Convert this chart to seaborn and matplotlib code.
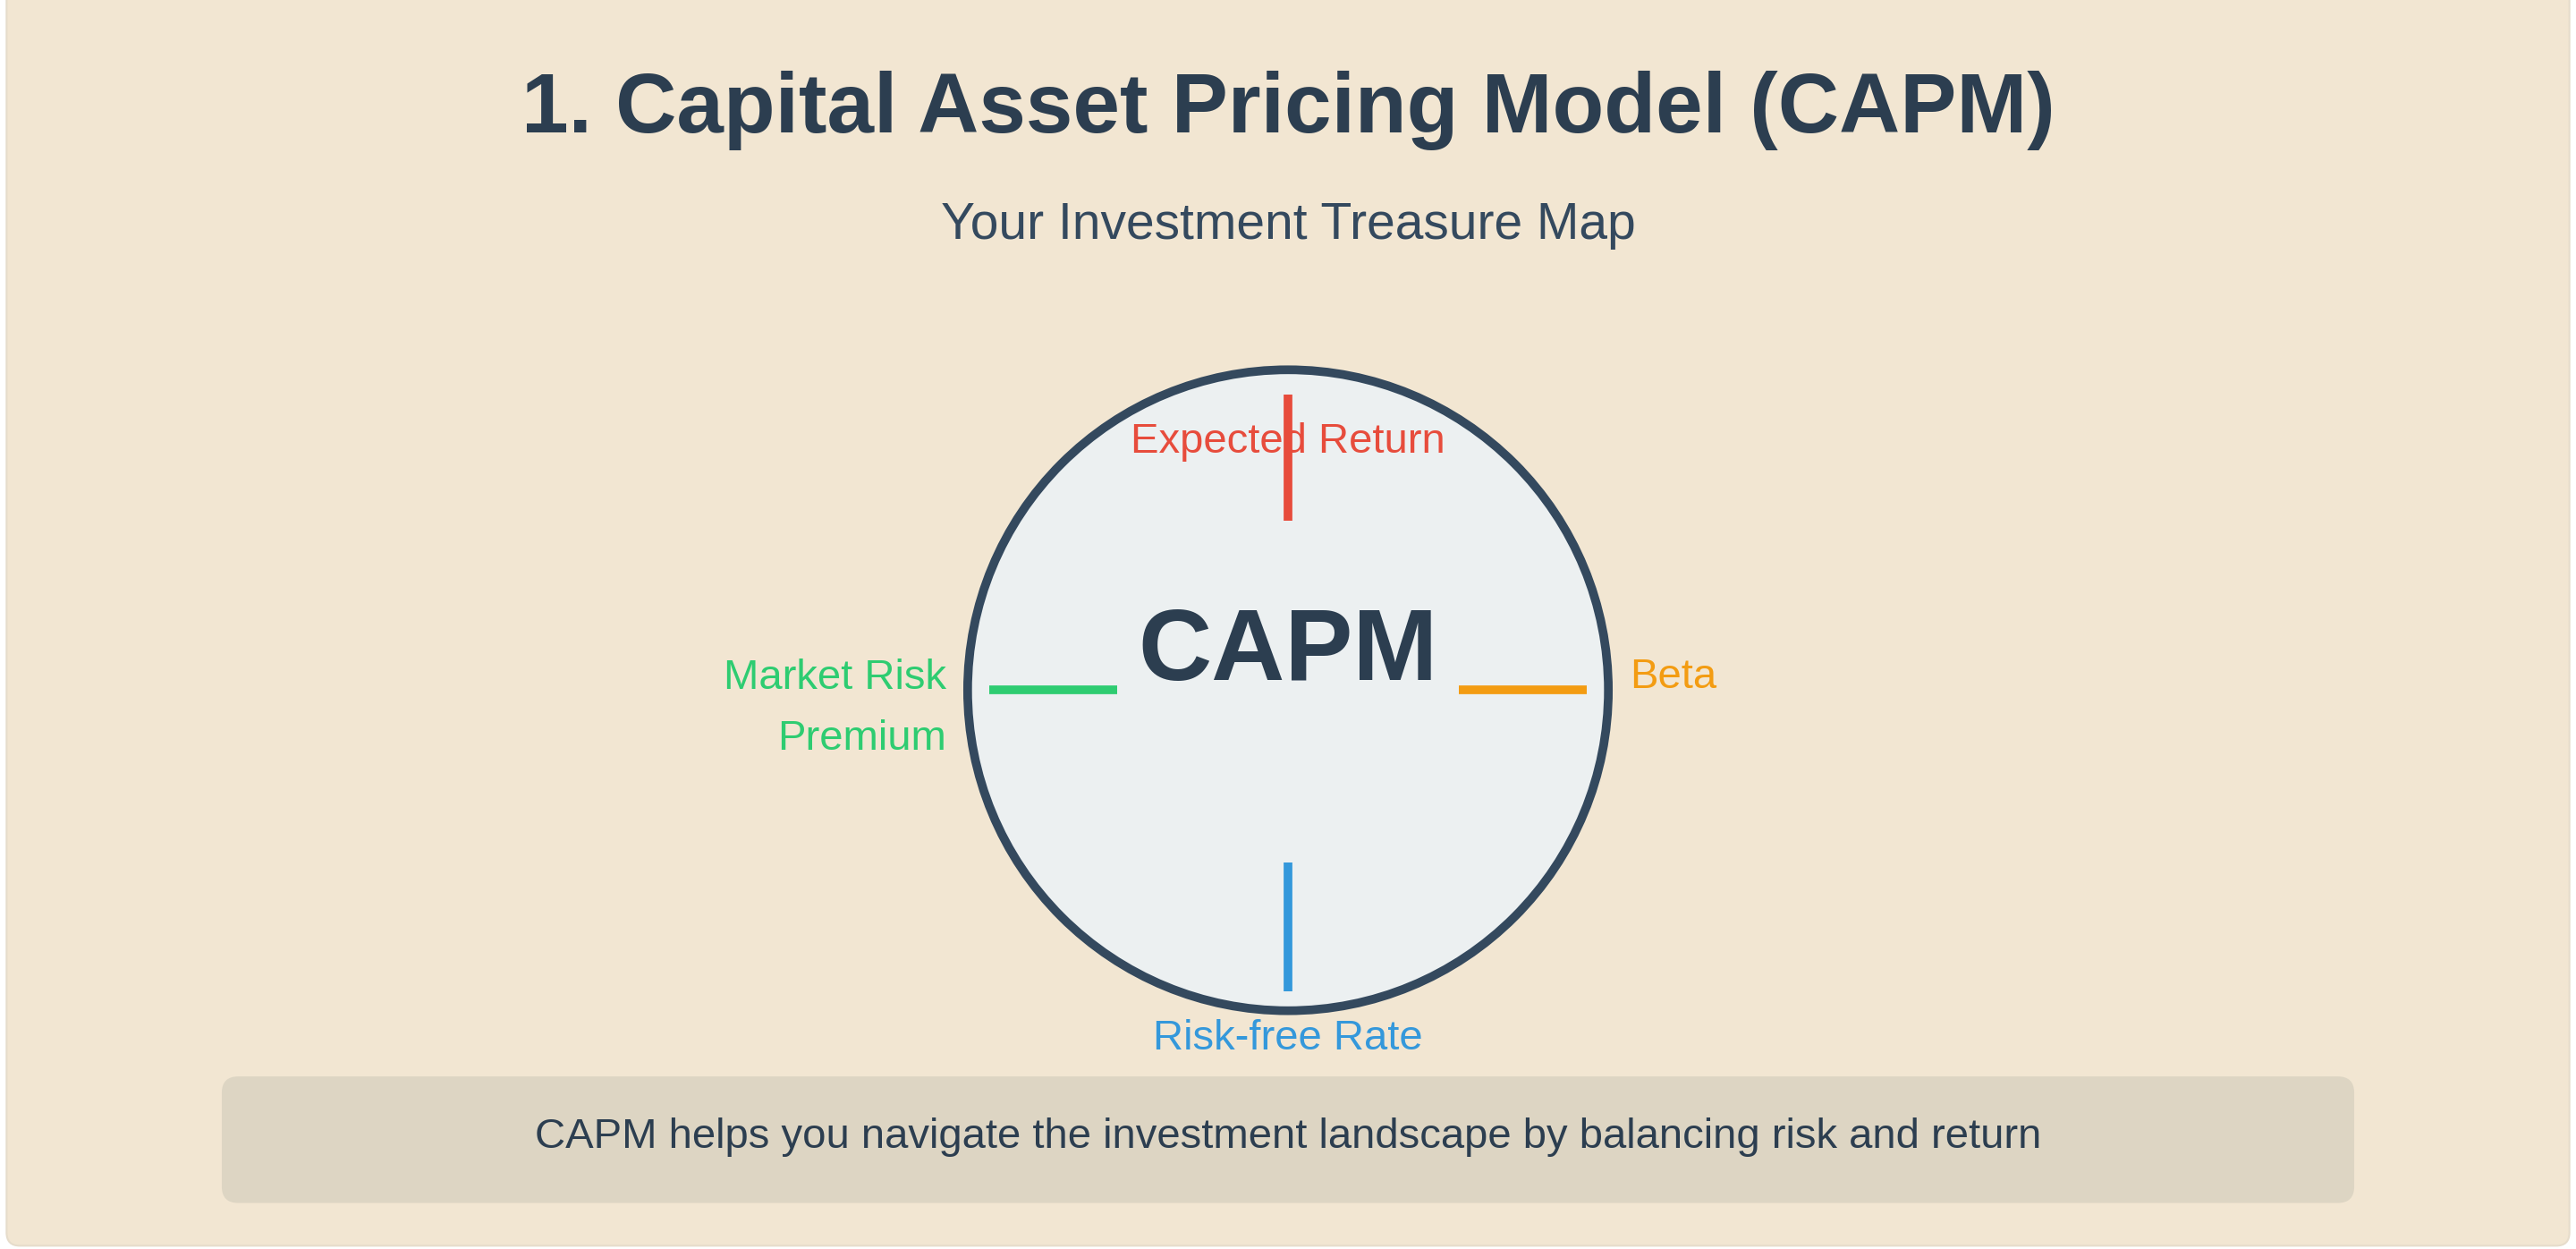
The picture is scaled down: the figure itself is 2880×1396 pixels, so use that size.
import numpy as np
import pandas as pd
import matplotlib.pyplot as plt
import seaborn as sns
from matplotlib.patches import Circle, FancyBboxPatch

# ----------------------------
# Data (layout units: 1568 x 760 canvas)
# ----------------------------
labels = ["Expected Return", "Beta", "Risk-free Rate", "Market Risk\nPremium"]
colors = ["#e74c3c", "#f39c12", "#3498db", "#2ecc71"]
seg_x0 = [784, 888, 784, 602]
seg_x1 = [784, 966, 784, 680]
seg_y0 = [240, 420, 525, 420]
seg_y1 = [317, 420, 603, 420]
label_x = [784, 992, 784, 576]
label_y = [269, 412, 632, 431]
label_ha = ["center", "left", "center", "right"]

title = "1. Capital Asset Pricing Model (CAPM)"
subtitle = "Your Investment Treasure Map"
note = "CAPM helps you navigate the investment landscape by balancing risk and return"

sns.set_theme(style="white")
plt.rcParams["font.family"] = ["Liberation Sans", "DejaVu Sans"]

fig = plt.figure(figsize=(28.8, 13.96), dpi=100)
fig.patch.set_facecolor("#ffffff")
ax = fig.add_axes([0, 0, 1, 1])

# page background
ax.add_patch(FancyBboxPatch((4, -10), 1560, 768, boxstyle="round,pad=0,rounding_size=8",
                            facecolor="#f2e6d2", edgecolor="#e6dccb", lw=1.5))

ax.text(784, 67, title, ha="center", va="center", fontsize=68, fontweight="bold", color="#2c3e50")
ax.text(784, 137, subtitle, ha="center", va="center", fontsize=41, color="#34495e")

# compass circle
ax.add_patch(Circle((784, 420), 195, facecolor="#ecf0f1", edgecolor="#34495e", lw=7, zorder=2))

segs = pd.DataFrame({
    "x": seg_x0 + seg_x1,
    "y": seg_y0 + seg_y1,
    "label": labels + labels,
})
sns.lineplot(data=segs, x="x", y="y", hue="label", palette=dict(zip(labels, colors)),
             estimator=None, units="label", sort=False, linewidth=7, legend=False,
             solid_capstyle="butt", ax=ax, zorder=3)
ax.set_xlim(0, 1568)
ax.set_ylim(760, 0)
ax.axis("off")

for lab, c, x, y, ha in zip(labels, colors, label_x, label_y, label_ha):
    ax.text(x, y, lab, ha=ha, va="center", fontsize=34, color=c, zorder=4, linespacing=1.7)

ax.text(784, 398, "CAPM", ha="center", va="center", fontsize=82, fontweight="bold",
        color="#2c3e50", zorder=4)

# bottom note box
ax.add_patch(FancyBboxPatch((135, 655), 1298, 77, boxstyle="round,pad=0,rounding_size=10",
                            facecolor="#ddd5c3", edgecolor="none", zorder=2))
ax.text(784, 692, note, ha="center", va="center", fontsize=34, color="#2c3e50", zorder=3)

fig.savefig("out.png", dpi=100)
